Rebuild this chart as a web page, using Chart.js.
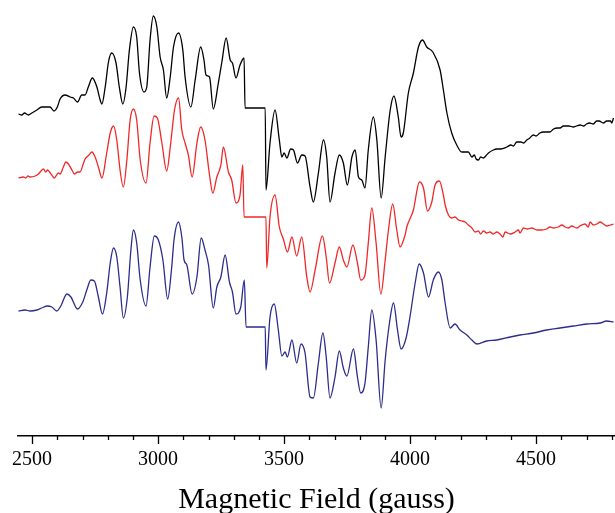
<!DOCTYPE html>
<html>
<head>
<meta charset="utf-8">
<script src="https://cdn.jsdelivr.net/npm/chart.js@4"></script>
<style>
  html, body { margin: 0; padding: 0; background: #fff; }
  #wrap { width: 615px; height: 513px; }
</style>
</head>
<body>
<div id="wrap"><canvas id="epr"></canvas></div>
<script>
// EPR spectra, field in gauss, signal in arbitrary units (each trace relative to its own baseline)
const blackField = [2446,2459,2470,2485,2499,2519,2538,2552,2571,2587,2600,2611,2631,2651,2664,2680,2697,2710,2723,2739,2757,2770,2777,2790,2803,2816,2833,2846,2860,2873,2886,2902,2915,2926,2944,2955,2968,2981,2995,3008,3021,3034,3048,3061,3081,3098,3107,3130,3147,3169,3182,3190,3204,3219,3239,3253,3270,3286,3295,3309,3325,3341,3345,3425,3428,3444,3464,3481,3491,3500,3511,3526,3537,3553,3570,3583,3603,3616,3636,3656,3669,3682,3702,3719,3735,3751,3769,3782,3795,3808,3821,3834,3854,3868,3885,3901,3921,3936,3953,3964,3973,3993,4013,4033,4049,4066,4090,4119,4132,4146,4165,4185,4205,4231,4245,4255,4262,4271,4280,4291,4300,4311,4330,4344,4360,4384,4400,4410,4423,4440,4450,4463,4475,4489,4500,4515,4529,4540,4555,4569,4585,4595,4608,4620,4630,4648,4660,4675,4688,4700,4712,4727,4740,4750,4767,4780,4795,4800,4807];
const blackSignal = [0,-1,1,-1,1,4,7,7,7,3,7,15,19,17,16,12,19,19,27,36,27,14,10,27,52,61,51,27,10,27,64,87,77,41,22,27,74,98,87,57,44,16,37,67,81,64,37,7,34,67,54,39,37,5,31,52,76,54,51,36,49,56,6,6,-76,-29,4,-26,-43,-39,-44,-35,-36,-49,-41,-42,-73,-88,-59,-26,-43,-88,-59,-41,-49,-71,-43,-36,-63,-66,-74,-36,-3,-26,-84,-43,4,18,-3,-23,-19,21,41,67,74,67,62,44,24,1,-19,-31,-38,-38,-43,-41,-45,-46,-43,-44,-42,-39,-36,-35,-35,-33,-31,-32,-28,-28,-29,-26,-24,-21,-22,-19,-18,-18,-18,-15,-14,-14,-12,-12,-12,-13,-12,-11,-12,-10,-9,-10,-7,-7,-9,-7,-7,-9,-4,-5];

const redField = [2446,2465,2475,2483,2492,2512,2525,2545,2554,2561,2575,2588,2604,2611,2624,2634,2644,2658,2668,2681,2690,2704,2710,2717,2726,2737,2750,2763,2777,
  2796,2810,2823,2836,2849,2862,2876,2889,2902,2915,2929,2952,2968,2984,2997,3015,3034,3050,3065,3081,3094,3107,3120,3135,3154,3169,3186,3204,3217,3233,3249,3259,3279,3292,3309,3325,3336,3341,3428,3431,3444,3464,3481,3497,3513,3531,3550,3570,3590,3603,3623,3652,3667,3680,3702,3719,3735,3749,3773,3791,3804,3821,3834,3848,3865,3884,3901,3914,3931,3947,3960,3980,3987,4013,4037,4053,4069,4086,4099,4116,
  4132,4139,4152,4165,4178,4192,4205,4218,4231,4245,4258,4271,4280,4291,4304,4317,4330,4344,4357,4368,4377,4397,4417,4430,4436,4450,4465,4483,4503,4522,4542,4555,4569,4588,4602,4615,4628,4641,4661,4674,4694,4707,4714,4727,4741,4754,4767,4780,4794,4807];
const redSignal = [-1,0,-1,1,0,1,3,8,5,7,3,-1,4,3,10,15,13,7,3,5,5,14,18,20,22,25,20,10,-1,
  24,44,51,37,7,-10,17,57,68,57,17,-6,34,61,59,34,6,34,67,79,47,34,22,0,34,50,37,2,-16,0,12,30,5,-3,-26,-18,12,-40,-40,-91,-40,-18,-50,-62,-75,-60,-79,-60,-100,-115,-93,-59,-80,-106,-86,-70,-83,-90,-68,-86,-103,-98,-66,-31,-66,-117,-83,-53,-27,-53,-70,-58,-50,-33,-5,-11,-34,-25,-8,-4,
  -18,-28,-38,-41,-40,-43,-44,-45,-48,-51,-55,-54,-57,-54,-56,-55,-57,-55,-57,-60,-55,-57,-55,-53,-56,-51,-52,-51,-53,-53,-52,-50,-51,-50,-48,-50,-51,-49,-51,-49,-47,-50,-45,-48,-47,-45,-47,-49,-48,-47];

const blueField = [2446,2472,2492,2519,2538,2561,2578,2598,2614,2638,2654,2680,2701,2717,2733,2747,2763,2779,2796,2810,2823,2836,2849,2862,2878,2892,2902,2915,2929,2952,2968,2985,3001,3019,3038,3054,3063,3081,3094,3103,3114,3135,3154,3171,3186,3200,3219,3233,3249,3266,3283,3295,3309,3328,3342,3349,3425,3428,3444,3461,3477,3491,3504,3513,3531,3550,3567,3583,3603,3616,3636,3654,3667,3682,3702,3719,3735,3749,3775,3791,3804,3821,3834,3848,3865,3885,3901,3918,3934,3950,3964,3984,4000,4020,4036,4053,4073,4092,4112,4126,4139,4159,4178,4198,4225,4245,4265,4304,4344,4397,4436,4489,4542,4595,4648,4701,4754,4780,4807];
const blueSignal = [0,1,0,1,3,5,4,0,5,17,14,2,9,21,31,30,14,-3,18,48,63,54,24,-7,14,61,81,68,31,5,44,75,71,51,12,44,71,89,74,51,46,17,34,73,61,46,3,24,34,56,29,19,-3,4,31,-16,-16,-59,-6,7,-19,-45,-41,-46,-29,-52,-33,-42,-86,-87,-52,-22,-46,-87,-66,-40,-57,-65,-38,-66,-82,-72,-36,1,-29,-97,-49,-12,8,-19,-38,-27,-5,28,47,38,14,31,39,31,8,-17,-13,-19,-24,-29,-33,-30,-29,-26,-24,-22,-19,-17,-15,-13,-12,-10,-11];

// vertical offsets of the stacked traces
const traceNames = ["black", "red", "blue"];
const traceOffsets = [322, 259, 125];
const traceColors = ["#000000", "#f02828", "#2c2c8c"];

const majorTicks = [2500, 3000, 3500, 4000, 4500];
const minorStep = 100;

function pts(xs, ys, off) {
  return xs.map((x, i) => ({ x: x, y: ys[i] + off }));
}

// short minor / long major tick marks below the axis line
const tickMarks = {
  id: "tickMarks",
  afterDraw(chart) {
    const sx = chart.scales.x;
    const c = chart.ctx;
    c.save();
    c.strokeStyle = "#000";
    c.lineWidth = 1.3;
    sx.ticks.forEach((t) => {
      const px = Math.round(sx.getPixelForValue(t.value)) + 0.5;
      const len = majorTicks.includes(t.value) ? 8 : 4;
      c.beginPath();
      c.moveTo(px, sx.top);
      c.lineTo(px, sx.top + len);
      c.stroke();
    });
    c.restore();
  }
};

const series = [
  pts(blackField, blackSignal, traceOffsets[0]),
  pts(redField, redSignal, traceOffsets[1]),
  pts(blueField, blueSignal, traceOffsets[2])
];

new Chart(document.getElementById("epr").getContext("2d"), {
  type: "line",
  data: {
    datasets: series.map((d, i) => ({
      label: traceNames[i],
      data: d,
      borderColor: traceColors[i],
      borderWidth: 1.3,
      pointRadius: 0,
      fill: false,
      cubicInterpolationMode: "monotone"
    }))
  },
  options: {
    responsive: true,
    maintainAspectRatio: false,
    animation: false,
    layout: { autoPadding: false, padding: { left: 18, right: 0, top: 0, bottom: 0 } },
    plugins: { legend: { display: false }, tooltip: { enabled: false } },
    scales: {
      x: {
        type: "linear",
        min: 2444,
        max: 4813,
        grid: { display: false, drawTicks: false },
        border: { display: true, color: "#000", width: 1.5 },
        afterFit: (s) => { s.height = 77; s.paddingLeft = 0; s.paddingRight = 0; },
        ticks: {
          stepSize: minorStep,
          includeBounds: false,
          autoSkip: false,
          maxRotation: 0,
          padding: 12,
          color: "#000",
          font: { family: "Liberation Serif", size: 20 },
          callback: (v) => majorTicks.includes(v) ? String(v) : ""
        },
        title: {
          display: true,
          text: "Magnetic Field (gauss)",
          color: "#000",
          font: { family: "Liberation Serif", size: 30, lineHeight: 0.85 },
          padding: { top: 0, bottom: 0 }
        }
      },
      y: {
        display: false,
        min: 0,
        max: 436
      }
    }
  },
  plugins: [tickMarks]
});
</script>
</body>
</html>
